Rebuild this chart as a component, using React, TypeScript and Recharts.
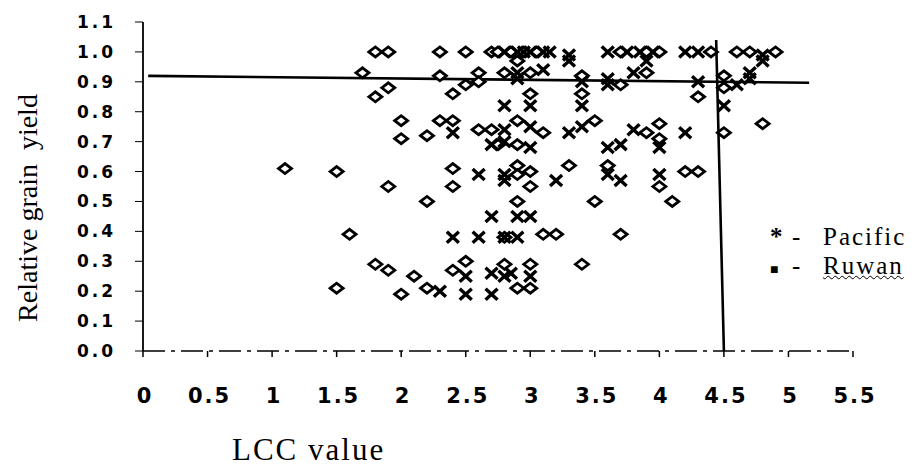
import React from 'react';
import { ScatterChart, Scatter, XAxis, YAxis, ReferenceLine } from 'recharts';

// LCC value vs relative grain yield, two varieties
const ruwanPoints: [number, number][] = [
  [1.1, 0.61], [1.5, 0.6], [1.5, 0.21], [1.6, 0.39], [1.7, 0.93], [1.8, 1.0], [1.8, 0.85], [1.8, 0.29],
  [1.9, 1.0], [1.9, 0.88], [1.9, 0.55], [1.9, 0.27], [2.0, 0.77], [2.0, 0.71], [2.0, 0.19], [2.1, 0.25],
  [2.2, 0.72], [2.2, 0.5], [2.2, 0.21], [2.3, 1.0], [2.3, 0.92], [2.3, 0.77], [2.4, 0.86], [2.4, 0.77],
  [2.4, 0.61], [2.4, 0.55], [2.4, 0.27], [2.5, 1.0], [2.5, 0.89], [2.5, 0.3], [2.6, 0.93], [2.6, 0.9],
  [2.6, 0.74], [2.7, 1.0], [2.7, 0.74], [2.75, 0.69], [2.75, 1.0], [2.8, 0.93], [2.8, 0.38], [2.8, 0.29],
  [2.85, 1.0], [2.9, 0.97], [2.9, 0.77], [2.9, 0.69], [2.9, 0.62], [2.9, 0.59], [2.9, 0.5], [2.9, 0.21],
  [2.95, 1.0], [3.0, 0.93], [3.0, 0.86], [3.0, 0.6], [3.0, 0.55], [3.0, 0.29], [3.0, 0.21], [3.05, 1.0],
  [3.1, 0.73], [3.1, 0.39], [3.2, 0.39], [3.3, 0.62], [3.4, 0.92], [3.4, 0.86], [3.4, 0.29], [3.5, 0.77],
  [3.5, 0.5], [3.6, 0.62], [3.7, 1.0], [3.7, 0.89], [3.7, 0.39], [3.9, 1.0], [3.9, 0.93], [3.9, 0.73],
  [4.0, 1.0], [4.0, 0.76], [4.0, 0.71], [4.0, 0.55], [4.1, 0.5], [4.2, 0.6], [4.3, 0.85], [4.3, 0.6],
  [4.4, 1.0], [4.5, 0.92], [4.5, 0.88], [4.5, 0.73], [4.6, 1.0], [4.7, 1.0], [4.8, 0.76], [4.9, 1.0],
];

const pacificPoints: [number, number][] = [
  [2.3, 0.2], [2.4, 0.73], [2.4, 0.38], [2.5, 0.25], [2.5, 0.19], [2.6, 0.59], [2.6, 0.38], [2.7, 0.69],
  [2.7, 0.45], [2.7, 0.26], [2.7, 0.19], [2.8, 1.0], [2.8, 0.82], [2.8, 0.74], [2.8, 0.7], [2.8, 0.59],
  [2.8, 0.57], [2.8, 0.38], [2.8, 0.25], [2.85, 0.26], [2.9, 1.0], [2.9, 0.93], [2.9, 0.91], [2.9, 0.45],
  [2.9, 0.38], [2.95, 1.0], [3.0, 1.0], [3.0, 0.82], [3.0, 0.75], [3.0, 0.68], [3.0, 0.45], [3.0, 0.25],
  [3.1, 1.0], [3.1, 0.94], [3.15, 1.0], [3.2, 0.57], [3.3, 0.99], [3.3, 0.97], [3.3, 0.73], [3.4, 0.9],
  [3.4, 0.82], [3.4, 0.75], [3.6, 1.0], [3.6, 0.91], [3.6, 0.89], [3.6, 0.68], [3.6, 0.59], [3.7, 0.69],
  [3.7, 0.57], [3.75, 1.0], [3.8, 0.93], [3.8, 0.74], [3.85, 1.0], [3.9, 0.97], [3.95, 1.0], [4.0, 0.68],
  [4.0, 0.59], [4.2, 1.0], [4.2, 0.73], [4.3, 1.0], [4.3, 0.9], [4.5, 0.82], [4.6, 0.89], [4.7, 0.93],
  [4.7, 0.91], [4.8, 0.99], [4.8, 0.97],
];

const xTicks = [0, 0.5, 1, 1.5, 2, 2.5, 3, 3.5, 4, 4.5, 5, 5.5];
const yTicks = [0, 0.1, 0.2, 0.3, 0.4, 0.5, 0.6, 0.7, 0.8, 0.9, 1.0, 1.1];

// hand drawn threshold lines (slightly tilted in the original)
const yieldLine = [{ x: 0.04, y: 0.92 }, { x: 5.16, y: 0.897 }];
const lccLine = [{ x: 4.44, y: 1.04 }, { x: 4.5, y: 0 }];

const ruwan = ruwanPoints.map(([x, y]) => ({ x, y }));
const pacific = pacificPoints.map(([x, y]) => ({ x, y }));

const Diamond = (props: any) => {
  const { cx, cy } = props;
  return (
    <polygon
      points={`${cx - 6.5},${cy} ${cx},${cy - 5} ${cx + 6.5},${cy} ${cx},${cy + 5}`}
      fill="#fff"
      stroke="#000"
      strokeWidth={2.8}
    />
  );
};

const Cross = (props: any) => {
  const { cx, cy } = props;
  return (
    <g stroke="#000" strokeWidth={3.4}>
      <line x1={cx - 6} y1={cy - 5.5} x2={cx + 6} y2={cy + 5.5} />
      <line x1={cx - 6} y1={cy + 5.5} x2={cx + 6} y2={cy - 5.5} />
    </g>
  );
};

const XTick = (props: any) => {
  const { x, y, payload } = props;
  return (
    <text x={x + 2} y={y + 46} textAnchor="middle" fontFamily="DejaVu Sans" fontWeight={600} fontSize={21} letterSpacing={2} fill="#000">
      {String(payload.value)}
    </text>
  );
};

const YTick = (props: any) => {
  const { x, y, payload } = props;
  return (
    <text x={x} y={y + 6} textAnchor="end" fontFamily="DejaVu Sans" fontWeight={600} fontSize={17} letterSpacing={3} fill="#000">
      {payload.value.toFixed(1)}
    </text>
  );
};

const serif = '"Liberation Serif", "Times New Roman", serif';

export default function App() {
  return (
    <div style={{ position: 'absolute', left: 0, top: 0, width: 922, height: 468, background: '#fff', overflow: 'hidden' }}>
      <ScatterChart width={922} height={468} margin={{ top: 22, right: 69, bottom: 87, left: 0 }}>
        <XAxis
          type="number"
          dataKey="x"
          domain={[0, 5.5]}
          ticks={xTicks}
          height={30}
          tickSize={6}
          tickMargin={0}
          axisLine={{ stroke: '#000', strokeWidth: 1.5, strokeDasharray: '22 6 4 6' }}
          tickLine={{ stroke: '#000', strokeWidth: 1.5 }}
          tick={<XTick />}
        />
        <YAxis
          type="number"
          dataKey="y"
          domain={[0, 1.1]}
          ticks={yTicks}
          width={143}
          tickSize={8}
          tickMargin={19}
          axisLine={{ stroke: '#000', strokeWidth: 1.8 }}
          tickLine={{ stroke: '#000', strokeWidth: 1 }}
          tick={<YTick />}
        />
        <ReferenceLine segment={yieldLine} stroke="#000" strokeWidth={2.6} />
        <ReferenceLine segment={lccLine} stroke="#000" strokeWidth={2.6} />
        <Scatter name="Ruwan" data={ruwan} shape={<Diamond />} isAnimationActive={false} />
        <Scatter name="Pacific" data={pacific} shape={<Cross />} isAnimationActive={false} />
      </ScatterChart>

      <div
        style={{
          position: 'absolute',
          left: 28,
          top: 208,
          transform: 'translate(-50%, -50%) rotate(-90deg)',
          fontFamily: serif,
          fontSize: 28,
          whiteSpace: 'pre',
          lineHeight: 1,
          color: '#000',
        }}
      >
        {'Relative grain  yield'}
      </div>

      <div
        style={{
          position: 'absolute',
          left: 232,
          top: 434,
          fontFamily: serif,
          fontSize: 31,
          letterSpacing: 2,
          lineHeight: 1,
          color: '#000',
          whiteSpace: 'pre',
        }}
      >
        LCC value
      </div>

      <div style={{ position: 'absolute', left: 770, top: 222, fontFamily: serif, fontSize: 25, lineHeight: '29px', color: '#000' }}>
        <div style={{ whiteSpace: 'pre' }}>
          <span style={{ display: 'inline-block', width: 22, fontWeight: 700 }}>*</span>
          <span style={{ display: 'inline-block', width: 31 }}>-</span>
          <span style={{ letterSpacing: 2 }}>Pacific</span>
        </div>
        <div style={{ whiteSpace: 'pre' }}>
          <span style={{ display: 'inline-block', width: 22, fontSize: 14 }}>■</span>
          <span style={{ display: 'inline-block', width: 31 }}>-</span>
          <span style={{ letterSpacing: 2, textDecoration: 'underline wavy', textDecorationThickness: 1 }}>Ruwan</span>
        </div>
      </div>
    </div>
  );
}
